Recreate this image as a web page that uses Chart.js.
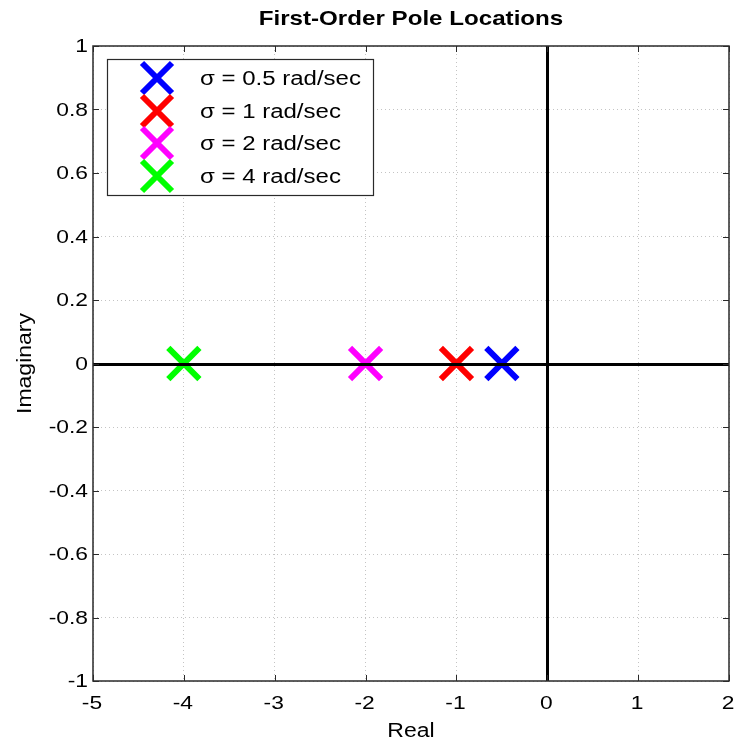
<!DOCTYPE html>
<html>
<head>
<meta charset="utf-8">
<script src="https://cdn.jsdelivr.net/npm/chart.js@4/dist/chart.umd.min.js"></script>
<style>
  html, body { margin: 0; padding: 0; background: #fff; overflow: hidden; }
  #wrap { width: 738px; height: 745px; }
  canvas { display: block; }
</style>
</head>
<body>
<div id="wrap"><canvas id="c" width="738" height="745"></canvas></div>
<script>
// Pole locations on the real axis for each decay rate
const seriesLabels = ['\u03c3 = 0.5 rad/sec', '\u03c3 = 1 rad/sec', '\u03c3 = 2 rad/sec', '\u03c3 = 4 rad/sec'];
const poleReal = [-0.5, -1, -2, -4];
const poleImag = [0, 0, 0, 0];
const seriesColors = ['#0000ff', '#ff0000', '#ff00ff', '#00ff00'];
const xTicks = [-5, -4, -3, -2, -1, 0, 1, 2];
const yTicks = [-1, -0.8, -0.6, -0.4, -0.2, 0, 0.2, 0.4, 0.6, 0.8, 1];

const FONT = '"Liberation Sans", Arial, Helvetica, sans-serif';

const datasets = seriesLabels.map((lab, i) => ({
  label: lab,
  data: [{ x: poleReal[i], y: poleImag[i] }],
  pointStyle: 'crossRot',
  pointRadius: 22,
  pointHoverRadius: 22,
  borderColor: seriesColors[i],
  backgroundColor: seriesColors[i],
  pointBorderWidth: 6,
  borderWidth: 6,
  showLine: false
}));

// text drawn with a slight horizontal stretch (wide Helvetica look)
function wideText(ctx, str, x, y, font, align, stretch, rot) {
  ctx.save();
  ctx.translate(x, y);
  if (rot) ctx.rotate(rot);
  ctx.scale(stretch, 1);
  ctx.font = font;
  ctx.textAlign = align;
  ctx.textBaseline = 'middle';
  ctx.fillStyle = '#000';
  ctx.fillText(str, 0, 0);
  ctx.restore();
}

function fmt(v) { return String(Math.round(v * 10) / 10); }

// Frame, inner ticks, tick labels, zero axes, title, axis titles and legend
const decor = {
  id: 'decor',
  afterDatasetsDraw(chart) {
    const { ctx, chartArea: a, scales: { x, y } } = chart;
    ctx.save();
    // zero axes
    ctx.strokeStyle = '#000';
    ctx.lineWidth = 3;
    ctx.beginPath();
    const x0 = Math.round(x.getPixelForValue(0)) + 0.5;
    const y0 = Math.round(y.getPixelForValue(0)) + 0.5;
    ctx.moveTo(x0, a.top); ctx.lineTo(x0, a.bottom);
    ctx.moveTo(a.left, y0); ctx.lineTo(a.right, y0);
    ctx.stroke();

    // frame
    ctx.strokeStyle = '#2a2a2a';
    ctx.lineWidth = 1.5;
    ctx.strokeRect(a.left, a.top, a.right - a.left, a.bottom - a.top);

    // inward tick marks
    ctx.lineWidth = 1;
    ctx.beginPath();
    const tl = 6;
    x.ticks.forEach(t => {
      const px = Math.round(x.getPixelForValue(t.value)) + 0.5;
      ctx.moveTo(px, a.bottom); ctx.lineTo(px, a.bottom - tl);
      ctx.moveTo(px, a.top); ctx.lineTo(px, a.top + tl);
    });
    y.ticks.forEach(t => {
      const py = Math.round(y.getPixelForValue(t.value)) + 0.5;
      ctx.moveTo(a.left, py); ctx.lineTo(a.left + tl, py);
      ctx.moveTo(a.right, py); ctx.lineTo(a.right - tl, py);
    });
    ctx.stroke();

    // tick labels
    const tickFont = '19px ' + FONT;
    x.ticks.forEach(t => {
      wideText(ctx, fmt(t.value), x.getPixelForValue(t.value) - 1, a.bottom + 23, tickFont, 'center', 1.2);
    });
    y.ticks.forEach(t => {
      wideText(ctx, fmt(t.value), a.left - 5, y.getPixelForValue(t.value) + 1, tickFont, 'right', 1.2);
    });

    // title
    wideText(ctx, 'First-Order Pole Locations', (a.left + a.right) / 2, 19, 'bold 21px ' + FONT, 'center', 1.15);

    // axis titles
    wideText(ctx, 'Real', (a.left + a.right) / 2, 731, '20px ' + FONT, 'center', 1.15);
    wideText(ctx, 'Imaginary', 25, (a.top + a.bottom) / 2, '20px ' + FONT, 'center', 1.15, -Math.PI / 2);

    // legend
    const lx = 107, ly = 59, lw = 266, lh = 136;
    ctx.fillStyle = '#fff';
    ctx.fillRect(lx, ly, lw, lh);
    ctx.strokeStyle = '#2a2a2a';
    ctx.lineWidth = 1.2;
    ctx.strokeRect(lx + 0.5, ly + 0.5, lw, lh);
    const rowY = [78, 111, 143, 176];
    chart.data.datasets.forEach((ds, i) => {
      const cy = rowY[i];
      const cx = 157;
      const h = 15;
      ctx.strokeStyle = ds.borderColor;
      ctx.lineWidth = 6;
      ctx.beginPath();
      ctx.moveTo(cx - h, cy - h); ctx.lineTo(cx + h, cy + h);
      ctx.moveTo(cx - h, cy + h); ctx.lineTo(cx + h, cy - h);
      ctx.stroke();
      wideText(ctx, ds.label, 200, cy + 1, '20px ' + FONT, 'left', 1.2);
    });
    ctx.restore();
  }
};

new Chart(document.getElementById('c'), {
  type: 'scatter',
  data: { datasets },
  options: {
    responsive: false,
    animation: false,
    events: [],
    layout: { autoPadding: false, padding: { left: 0, right: 9, top: 46, bottom: 0 } },
    plugins: { legend: { display: false }, tooltip: { enabled: false }, title: { display: false } },
    scales: {
      x: {
        type: 'linear',
        min: -5, max: 2,
        afterBuildTicks: s => { s.ticks = xTicks.map(v => ({ value: v })); },
        afterFit: s => { s.height = 64; s.paddingLeft = 0; s.paddingRight = 0; },
        ticks: { display: false },
        grid: { color: '#c4c4c4', drawTicks: false, lineWidth: 1 },
        border: { display: false, dash: [1, 3] }
      },
      y: {
        type: 'linear',
        min: -1, max: 1,
        afterBuildTicks: s => { s.ticks = yTicks.map(v => ({ value: v })); },
        afterFit: s => { s.width = 93; s.paddingTop = 0; s.paddingBottom = 0; },
        ticks: { display: false },
        grid: { color: '#c4c4c4', drawTicks: false, lineWidth: 1 },
        border: { display: false, dash: [1, 3] }
      }
    }
  },
  plugins: [decor]
});
</script>
</body>
</html>
